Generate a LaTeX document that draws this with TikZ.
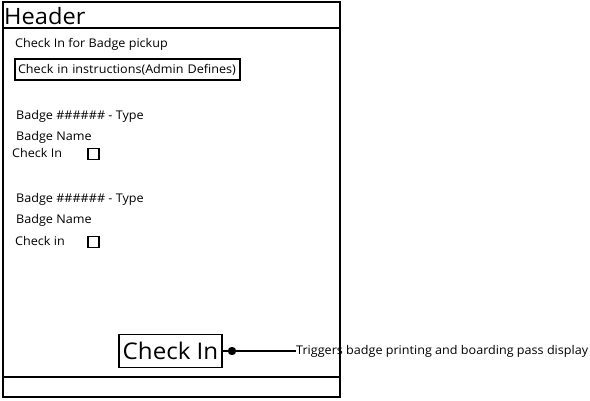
\documentclass[tikz,border=0pt]{standalone}
\usepackage{fontspec}
\setmainfont{Open Sans}[FakeStretch=1.05]
\begin{document}
\begin{tikzpicture}[x=1pt,y=-1pt,
  txt/.style={font=\fontsize{12}{14}\selectfont, anchor=west, inner sep=0pt},
  frame/.style={line width=1.8pt},
  cbox/.style={draw, line width=1.2pt, minimum width=11pt, minimum height=11pt, inner sep=0pt},
  btn/.style={draw, line width=1.6pt, inner sep=0pt, font=\fontsize{12}{14}\selectfont}]
\fill[white] (0,0) rectangle (590,400);
\useasboundingbox (0,0) rectangle (590,400);
\node[anchor=west, inner sep=0pt, font=\fontsize{22.5}{26}\selectfont] (header) at (4,16.5) {Header};
\node[txt] (title) at (15,44) {Check In for Badge pickup};
\node[btn, minimum width=225pt, minimum height=21pt, text width=219pt, align=left] (instr) at (127.5,69.5) {Check in instructions(Admin Defines)};
\node[txt] (b1type) at (16,116) {Badge \#\#\#\#\#\# - Type};
\node[txt] (b1name) at (16,137) {Badge Name};
\node[txt] (b1chk) at (12,153) {Check In};
\node[cbox] (cb1) at (93.5,154) {};
\node[txt] (b2type) at (16,199) {Badge \#\#\#\#\#\# - Type};
\node[txt] (b2name) at (16,220) {Badge Name};
\node[txt] (b2chk) at (15,241) {Check in};
\node[cbox] (cb2) at (93.5,242) {};
\node[draw, line width=1.6pt, inner sep=0pt, minimum width=103pt, minimum height=33pt, font=\fontsize{23}{27}\selectfont] (checkin) at (170.5,351) {Check In};
\node[txt] (note) at (296,351) {Triggers badge printing and boarding pass display};
\draw[line width=1.5pt] (checkin.east) -- (note.west);
\fill (232,351) circle (4.2pt);
\draw[frame] (3,2) rectangle (340,397);
\draw[frame] (3,28) -- (340,28);
\draw[frame] (3,377) -- (340,377);
\end{tikzpicture}
\end{document}
